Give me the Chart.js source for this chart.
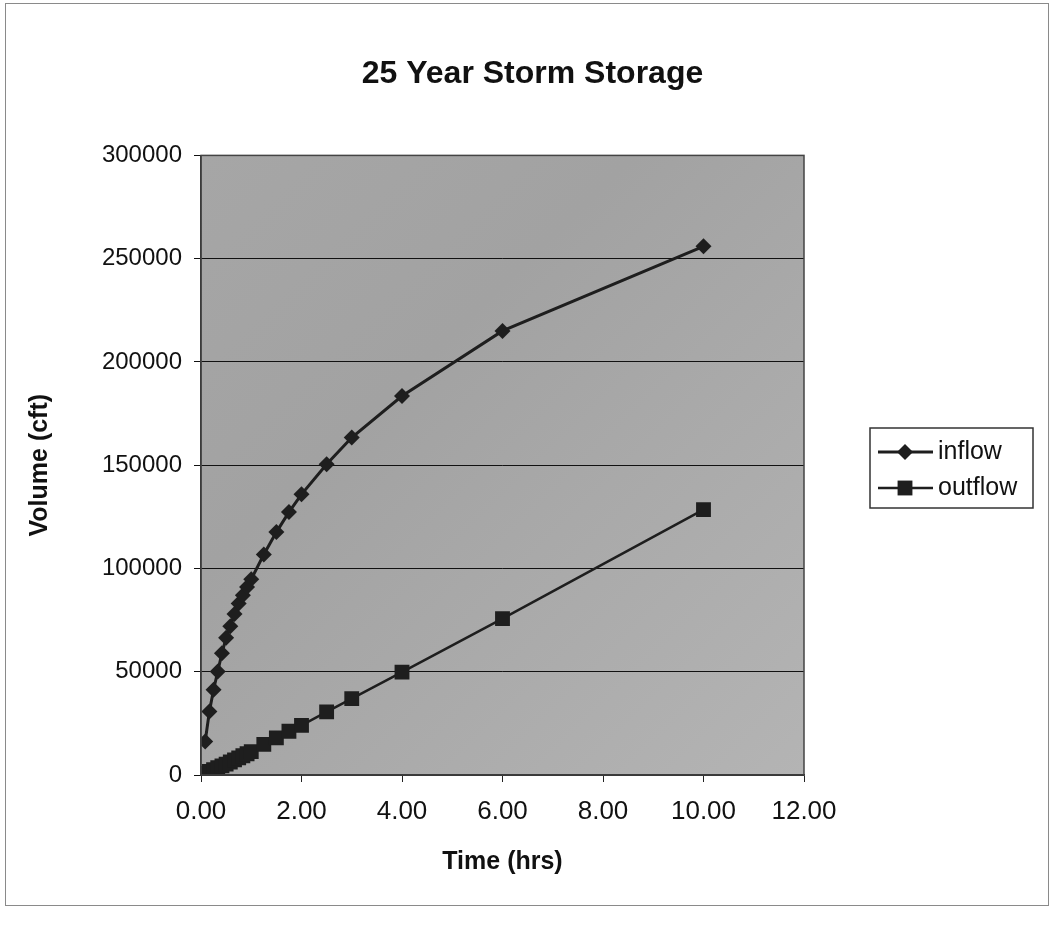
<!DOCTYPE html>
<html>
<head>
<meta charset="utf-8">
<script src="https://cdn.jsdelivr.net/npm/chart.js@4.4.1/dist/chart.umd.min.js"></script>
<style>
  html, body { margin: 0; padding: 0; background: #fff; }
  #wrap { width: 1054px; height: 930px; }
</style>
</head>
<body>
<div id="wrap"><canvas id="chartStorage" width="1054" height="930"></canvas></div>
<script>
// datos
const horas   = [0.083, 0.167, 0.25, 0.333, 0.417, 0.5, 0.583, 0.667, 0.75, 0.833, 0.917, 1.0,
                 1.25, 1.5, 1.75, 2.0, 2.5, 3.0, 4.0, 6.0, 10.0];
const inflow  = [16200, 30700, 41300, 50100, 59000, 66400, 72000, 78000, 83000, 87000, 91000, 94800,
                 106800, 117600, 127300, 135900, 150500, 163400, 183500, 215000, 256000];
const outflow = [800, 1700, 2600, 3500, 4400, 5300, 6300, 7300, 8300, 9300, 10300, 11300,
                 14800, 18000, 21200, 24000, 30600, 37000, 49800, 75700, 128500];
const xTicks = [0, 2, 4, 6, 8, 10, 12];
const yTicks = [0, 50000, 100000, 150000, 200000, 250000, 300000];
const series = ['inflow', 'outflow'];

const FONT = 'Arial, "Liberation Sans", sans-serif';

// fondo gris del área de trazado + bordes
const fondoPlot = {
  id: 'fondoPlot',
  beforeDraw(chart) {
    const { ctx, chartArea: a } = chart;
    ctx.save();
    const g = ctx.createLinearGradient(a.left, a.top, a.right, a.bottom);
    g.addColorStop(0, '#a6a6a6');
    g.addColorStop(0.35, '#a2a2a2');
    g.addColorStop(1, '#b4b4b4');
    ctx.fillStyle = g;
    ctx.fillRect(a.left, a.top, a.right - a.left, a.bottom - a.top);
    ctx.restore();
  },
  afterDraw(chart) {
    const { ctx, chartArea: a } = chart;
    ctx.save();
    ctx.strokeStyle = '#444';
    ctx.lineWidth = 1.5;
    ctx.strokeRect(a.left, a.top, a.right - a.left, a.bottom - a.top);
    // marco exterior
    ctx.strokeStyle = '#8a8a8a';
    ctx.lineWidth = 1;
    ctx.strokeRect(5.5, 3.5, 1043, 902);
    ctx.restore();
  }
};

// leyenda estilo Excel: línea con marcador al centro
const leyenda = {
  id: 'leyenda',
  afterDraw(chart) {
    const { ctx } = chart;
    ctx.save();
    ctx.strokeStyle = '#333';
    ctx.lineWidth = 1.5;
    ctx.strokeRect(870, 428, 163, 80);
    const filas = [452, 488];
    chart.data.datasets.forEach((ds, i) => {
      const y = filas[i];
      ctx.strokeStyle = ds.borderColor;
      ctx.lineWidth = ds.borderWidth;
      ctx.beginPath();
      ctx.moveTo(878, y);
      ctx.lineTo(933, y);
      ctx.stroke();
      ctx.fillStyle = ds.pointBackgroundColor;
      ctx.beginPath();
      if (ds.pointStyle === 'rectRot') {
        const r = ds.pointRadius;
        ctx.moveTo(905, y - r); ctx.lineTo(905 + r, y); ctx.lineTo(905, y + r); ctx.lineTo(905 - r, y);
        ctx.closePath();
      } else {
        const s = ds.pointRadius * Math.SQRT1_2;
        ctx.rect(905 - s, y - s, 2 * s, 2 * s);
      }
      ctx.fill();
      ctx.fillStyle = '#111';
      ctx.font = '25px ' + FONT;
      ctx.textBaseline = 'middle';
      ctx.textAlign = 'left';
      ctx.fillText(ds.label, 938, y);
    });
    ctx.restore();
  }
};

new Chart(document.getElementById('chartStorage'), {
  type: 'line',
  data: {
    datasets: [
      {
        label: series[0],
        data: horas.map((h, i) => ({ x: h, y: inflow[i] })),
        borderColor: '#1e1e1e', borderWidth: 3,
        pointStyle: 'rectRot', pointRadius: 8,
        pointBackgroundColor: '#1e1e1e', pointBorderWidth: 0,
        tension: 0, fill: false
      },
      {
        label: series[1],
        data: horas.map((h, i) => ({ x: h, y: outflow[i] })),
        borderColor: '#1e1e1e', borderWidth: 2.5,
        pointStyle: 'rect', pointRadius: 10.5,
        pointBackgroundColor: '#1e1e1e', pointBorderWidth: 0,
        tension: 0, fill: false
      }
    ]
  },
  options: {
    responsive: false,
    animation: false,
    devicePixelRatio: 1,
    layout: { padding: { left: 11, right: 0, top: 0, bottom: 0 } },
    plugins: {
      legend: { display: false },
      tooltip: { enabled: false },
      title: {
        display: true,
        text: '25 Year Storm Storage',
        color: '#111',
        font: { family: FONT, size: 32, weight: 'bold' },
        padding: { top: 55, bottom: 62 }
      }
    },
    scales: {
      x: {
        type: 'linear', min: 0, max: 12,
        afterBuildTicks: s => { s.ticks = xTicks.map(v => ({ value: v })); },
        afterFit: s => { s.height = 155; },
        grid: { drawOnChartArea: false, drawTicks: true, tickLength: 7, color: '#222' },
        border: { display: true, color: '#222', width: 1.5 },
        ticks: { color: '#111', padding: 14, font: { family: FONT, size: 26 }, callback: v => Number(v).toFixed(2) },
        title: { display: true, text: 'Time (hrs)', color: '#111',
                 font: { family: FONT, size: 25, weight: 'bold' }, padding: { top: 0, bottom: 53 } }
      },
      y: {
        min: 0, max: 300000,
        afterBuildTicks: s => { s.ticks = yTicks.map(v => ({ value: v })); },
        afterFit: s => { s.width = 190; },
        grid: { color: '#111', lineWidth: 1, tickLength: 7 },
        border: { display: true, color: '#222', width: 1.5 },
        ticks: { color: '#111', padding: 12, font: { family: FONT, size: 24 }, callback: v => String(v) },
        title: { display: true, text: 'Volume (cft)', color: '#111',
                 font: { family: FONT, size: 25, weight: 'bold' }, padding: { top: 14, bottom: 0 } }
      },
      // eje vacío a la derecha: reserva el espacio de la leyenda
      yLeyenda: {
        position: 'right', min: 0, max: 1,
        afterFit: s => { s.width = 250; },
        grid: { display: false },
        border: { display: false },
        ticks: { display: false }
      }
    }
  },
  plugins: [fondoPlot, leyenda]
});
</script>
</body>
</html>
